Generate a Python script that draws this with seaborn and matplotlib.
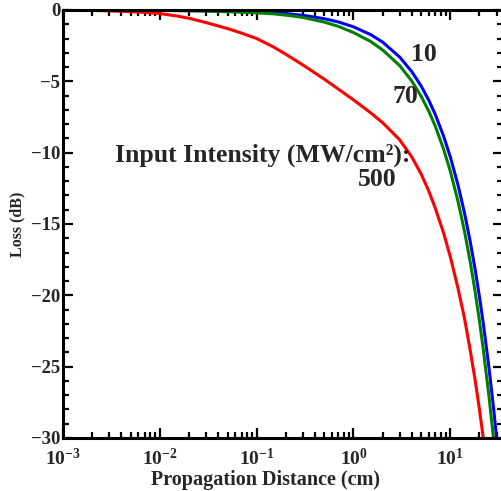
import numpy as np
import pandas as pd
import matplotlib
matplotlib.use("Agg")
import matplotlib.pyplot as plt
import seaborn as sns

# ---- data ----
dist_10 = [0.001, 0.01, 0.03, 0.05, 0.1, 0.15, 0.2, 0.3, 0.5, 0.7, 1, 1.5, 2, 3, 4, 5, 6,
           7, 8.5, 10, 12, 14, 16, 18, 20, 22, 25, 28, 31, 35]
loss_10 = [0.0, -0.01, -0.04, -0.07, -0.13, -0.19, -0.25, -0.37, -0.61, -0.84, -1.18,
           -1.72, -2.25, -3.3, -4.32, -5.33, -6.33, -7.33, -8.82, -10.3, -12.26, -14.22,
           -16.18, -18.14, -20.1, -22.06, -25.0, -27.94, -30.88, -34.8]

dist_70 = [0.001, 0.01, 0.03, 0.05, 0.1, 0.15, 0.2, 0.3, 0.5, 0.7, 1, 1.5, 2, 3, 4, 5, 6,
           7, 8.5, 10, 12, 14, 16, 18, 20, 22, 25, 28, 31, 35]
loss_70 = [0.0, -0.03, -0.08, -0.12, -0.2, -0.27, -0.36, -0.52, -0.85, -1.15, -1.58,
           -2.2, -2.8, -3.9, -4.98, -6.05, -7.1, -8.15, -9.73, -11.3, -13.4, -15.5,
           -17.6, -19.7, -21.8, -23.9, -27.0, -30.1, -33.2, -37.3]

dist_500 = [0.001, 0.002, 0.003, 0.005, 0.007, 0.01, 0.015, 0.02, 0.03, 0.05, 0.07, 0.1,
            0.15, 0.2, 0.3, 0.5, 0.7, 1.0, 1.5, 2.0, 3.0, 4.0, 5.0, 6.0, 7.0, 8.5, 10,
            12, 14, 16, 18, 20, 22, 25]
loss_500 = [0.0, -0.03, -0.06, -0.12, -0.17, -0.25, -0.42, -0.58, -0.88, -1.3, -1.62,
            -2.0, -2.6, -3.1, -3.85, -4.85, -5.55, -6.3, -7.2, -7.9, -9.1, -10.3, -11.5,
            -12.7, -13.9, -15.6, -17.3, -19.5, -21.6, -23.8, -25.9, -28.0, -30.1, -33.2]

intensities = ["10", "70", "500"]
colors = ["#0000ff", "#008000", "#ff0000"]

xtick_vals = [1e-3, 1e-2, 1e-1, 1e0, 1e1]
xtick_labels = [r"$\mathbf{10^{-3}}$", r"$\mathbf{10^{-2}}$", r"$\mathbf{10^{-1}}$",
                r"$\mathbf{10^{0}}$", r"$\mathbf{10^{1}}$"]
ytick_vals = [0, -5, -10, -15, -20, -25, -30]
ytick_labels = ["0", "\u22125", "\u221210", "\u221215", "\u221220", "\u221225", "\u221230"]

frames = []
for lab, d, l in zip(intensities, [dist_10, dist_70, dist_500], [loss_10, loss_70, loss_500]):
    frames.append(pd.DataFrame({"dist": d, "loss": l, "I": lab}))
df = pd.concat(frames, ignore_index=True)

sns.set_style("ticks")
plt.rcParams["font.family"] = ["Liberation Serif", "DejaVu Serif"]
plt.rcParams["font.weight"] = "bold"
plt.rcParams["mathtext.fontset"] = "custom"
plt.rcParams["mathtext.rm"] = "Liberation Serif:bold"
plt.rcParams["mathtext.bf"] = "Liberation Serif:bold"
plt.rcParams["mathtext.it"] = "Liberation Serif:bold:italic"

fig = plt.figure(figsize=(5.01, 4.91), dpi=100)
ax = fig.add_axes([63 / 501, 1 - 438 / 491, (503 - 63) / 501, (438 - 10) / 491])

sns.lineplot(data=df, x="dist", y="loss", hue="I", hue_order=intensities,
             palette=colors, linewidth=2.2, legend=False, ax=ax, estimator=None)

ax.set_xscale("log")
ax.set_xlim(1e-3, 35)
ax.set_ylim(-30, 0)

ax.set_xticks(xtick_vals)
ax.set_xticklabels(xtick_labels, fontsize=14)
ax.xaxis.set_minor_locator(matplotlib.ticker.LogLocator(base=10, subs=np.arange(2, 10)))
ax.xaxis.set_minor_formatter(matplotlib.ticker.NullFormatter())
ax.set_yticks(ytick_vals)
ax.set_yticklabels(ytick_labels, fontsize=13.5, fontweight="bold")
ax.yaxis.set_minor_locator(matplotlib.ticker.MultipleLocator(1))

ax.tick_params(which="both", direction="in", top=True, right=True, width=1.6, color="black")
ax.tick_params(which="major", length=7)
ax.tick_params(which="minor", length=4)
ax.tick_params(axis="x", which="major", pad=7)
ax.tick_params(axis="y", which="major", pad=2)
for s in ax.spines.values():
    s.set_linewidth(2.2)
    s.set_color("black")

ax.set_xlabel("Propagation Distance (cm)", fontsize=14.5, fontweight="bold", labelpad=0)
ax.xaxis.set_label_coords(0.461, -0.074)
ax.set_ylabel("Loss (dB)", fontsize=11.5, fontweight="bold", labelpad=4)

ax.text(0.82, 0.897, "10", transform=ax.transAxes, fontsize=18.5, fontweight="bold",
        ha="center", va="center")
ax.text(0.777, 0.797, "70", transform=ax.transAxes, fontsize=18.5, fontweight="bold",
        ha="center", va="center")
ax.text(0.789, 0.661, "Input Intensity (MW/cm\u00b2):", transform=ax.transAxes,
        fontsize=18.5, fontweight="bold", ha="right", va="center")
ax.text(0.759, 0.603, "500", transform=ax.transAxes, fontsize=18.5, fontweight="bold",
        ha="right", va="center")

fig.savefig("out.png", dpi=100)
